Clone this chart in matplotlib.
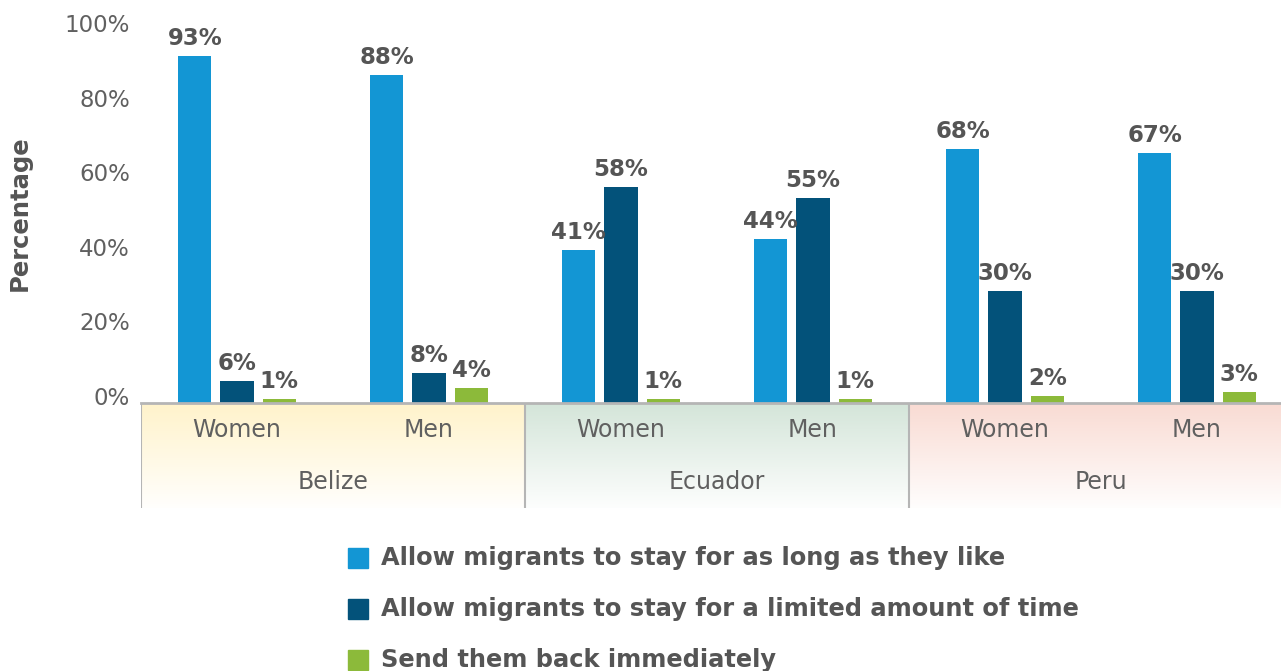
import numpy as np
import matplotlib.pyplot as plt
import matplotlib.transforms as mtransforms
from matplotlib.colors import LinearSegmentedColormap
from matplotlib.patches import Rectangle

# survey results, % of respondents per answer
countries = ["Belize", "Ecuador", "Peru"]
genders = ["Women", "Men"]
series = ["Allow migrants to stay for as long as they like",
          "Allow migrants to stay for a limited amount of time",
          "Send them back immediately"]
stay_long = [93, 88, 41, 44, 68, 67]
stay_limited = [6, 8, 58, 55, 30, 30]
send_back = [1, 4, 1, 1, 2, 3]

colors = ["#1396d4", "#03527a", "#8cba3a"]
band_tops = ["#fff3cb", "#d4e5d9", "#f9dbd3"]
txt = "#555555"
light_txt = "#606060"

plt.rcParams['font.family'] = ['DejaVu Sans']

fig = plt.figure(figsize=(12.81, 6.71), dpi=100)
W, H = fig.get_size_inches() * fig.dpi
# plot area runs a little past the right edge of the canvas
ax = fig.add_axes([141/W, 1-403/H, 1152/W, (403-30)/H])

x = np.arange(len(stay_long))
w = 0.172
offs = [-0.22, 0, 0.22]
for vals, c, o, name in zip([stay_long, stay_limited, send_back], colors, offs, series):
    bars = ax.bar(x + o, vals, w, color=c, label=name)
    for b, v in zip(bars, vals):
        ax.text(b.get_x() + b.get_width()/2, v + 1.6, f"{v}%", ha="center", va="bottom",
                fontsize=16.5, fontweight="bold", color=txt)

ax.set_xlim(-0.5, len(x) - 0.5)
ax.set_ylim(0, 100)
ax.set_yticks(range(0, 101, 20))
ax.set_yticklabels([f"{t}%" for t in range(0, 101, 20)], fontsize=16.5, color=light_txt)
ax.tick_params(axis="y", length=0, pad=8)
# tick labels sit slightly above their gridline positions
lift = mtransforms.ScaledTranslation(0, 5/72, fig.dpi_scale_trans)
for lab in ax.get_yticklabels():
    lab.set_transform(lab.get_transform() + lift)
ax.set_xticks([])
for s in ax.spines.values():
    s.set_visible(False)
ax.set_ylabel("Percentage", fontsize=17.5, fontweight="bold", color=txt)
ax.yaxis.set_label_coords(-0.095, 0.51)

# category bands under the bars
cax = fig.add_axes([141/W, 1-508/H, 1152/W, (508-403)/H])
cax.set_xlim(ax.get_xlim())
cax.set_ylim(0, 1)
cax.axis("off")
grad = np.linspace(0, 1, 100).reshape(-1, 1)
for i, (cname, top) in enumerate(zip(countries, band_tops)):
    cmap = LinearSegmentedColormap.from_list(cname, [top, "#ffffff"])
    x0, x1 = 2*i - 0.5, 2*i + 1.5
    cax.imshow(grad, cmap=cmap, extent=(x0, x1, 0, 1), aspect="auto", zorder=0, vmin=0, vmax=1.05)
    cax.plot([x0, x0], [0, 1], color="#b5b5b5", lw=1.5, zorder=2)
    cax.text(2*i + 0.5, 0.25, cname, ha="center", va="center", fontsize=17,
             color=light_txt)
    for j, g in enumerate(genders):
        cax.text(2*i + j, 0.74, g, ha="center", va="center", fontsize=17,
                 color=light_txt)
cax.plot([-0.5, len(x) - 0.5], [1, 1], color="#b5b5b5", lw=2, zorder=2, clip_on=False)
cax.set_xlim(ax.get_xlim())

# legend rows: square swatch + bold label
for k, (c, s) in enumerate(zip(colors, series)):
    yc = 558 + 51*k
    fig.patches.append(Rectangle((348/W, 1 - (yc + 10)/H), 20/W, 20/H, color=c,
                                 transform=fig.transFigure, figure=fig))
    fig.text(381/W, 1 - yc/H, s, ha="left", va="center", fontsize=17.4,
             fontweight="bold", color=txt)

fig.savefig("out.png", dpi=100)
